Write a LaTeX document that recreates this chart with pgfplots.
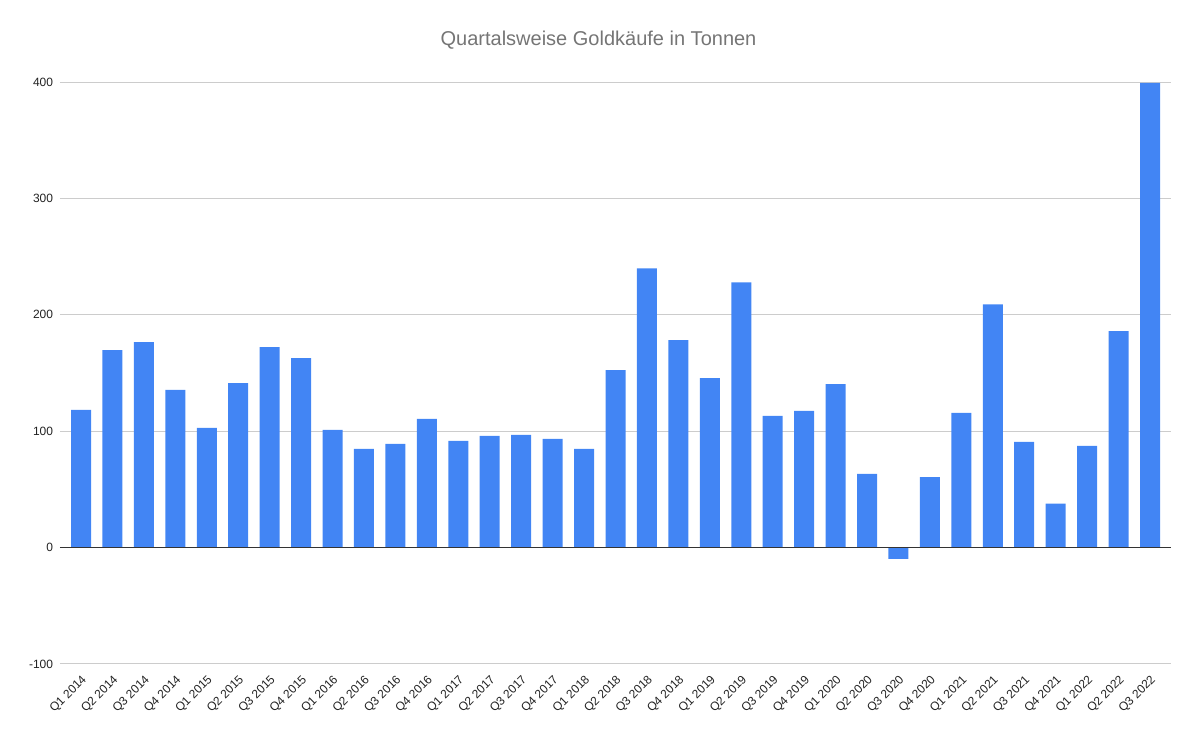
\documentclass[border=0pt]{standalone}
\usepackage{fontspec}
\setmainfont{Liberation Sans}
\usepackage{pgfplots}
\usepackage{pgfplotstable}
\pgfplotsset{compat=1.18}
\definecolor{barblue}{HTML}{4285F4}
\definecolor{gridgray}{HTML}{CCCCCC}
\definecolor{titlegray}{HTML}{757575}
\definecolor{labelgray}{HTML}{222222}
\definecolor{zeroline}{HTML}{333333}

% Goldkaeufe in Tonnen, Q1 2014 (0) bis Q3 2022 (34)
\pgfplotstableread{
idx value
0  118.3
1  169.7
2  176.5
3  135.4
4  102.8
5  141.4
6  172.2
7  162.8
8  101.1
9  84.8
10 89.1
11 110.5
12 91.7
13 96.0
14 96.8
15 93.4
16 84.8
17 152.5
18 239.9
19 178.2
20 145.7
21 227.9
22 113.1
23 117.4
24 140.5
25 63.4
26 -9.7
27 60.6
28 115.7
29 209.0
30 90.8
31 37.7
32 87.4
33 186.0
34 399.3
}\goldtable

\begin{document}
\begin{tikzpicture}
\path[use as bounding box] (0pt,0pt) rectangle (897.75pt,551.25pt);
\node[font=\fontsize{15}{18}\selectfont, text=titlegray] at (448.9pt,521.25pt)
  {Quartalsweise Goldkäufe in Tonnen};
\begin{axis}[at={(45pt,53.25pt)}, anchor=south west,
             scale only axis,
             width=833.25pt,
             height=436.5pt,
             xmin=-0.668, xmax=34.668,
             ymin=-100, ymax=400,
             xtick={0,...,34},
             xticklabels={Q1 2014,Q2 2014,Q3 2014,Q4 2014,
                          Q1 2015,Q2 2015,Q3 2015,Q4 2015,
                          Q1 2016,Q2 2016,Q3 2016,Q4 2016,
                          Q1 2017,Q2 2017,Q3 2017,Q4 2017,
                          Q1 2018,Q2 2018,Q3 2018,Q4 2018,
                          Q1 2019,Q2 2019,Q3 2019,Q4 2019,
                          Q1 2020,Q2 2020,Q3 2020,Q4 2020,
                          Q1 2021,Q2 2021,Q3 2021,Q4 2021,
                          Q1 2022,Q2 2022,Q3 2022},
             ytick={-100,0,100,200,300,400},
             yticklabels={-100,0,100,200,300,400},
             ymajorgrids,
             grid style={gridgray, line width=0.75pt},
             axis line style={draw=none},
             major tick length=0pt,
             tick label style={font=\fontsize{9}{10}\selectfont, text=labelgray},
             yticklabel style={anchor=east, inner sep=0pt, xshift=-5pt},
             xticklabel style={rotate=45, anchor=north east, inner sep=0pt,
                               xshift=-5.3pt, yshift=-5.3pt},
             clip=false]
  \addplot[ybar, bar width=15pt, fill=barblue, draw=none]
    table[x=idx, y=value] {\goldtable};
  \draw[zeroline, line width=0.75pt] (axis cs:-0.668,0) -- (axis cs:34.668,0);
\end{axis}
\end{tikzpicture}
\end{document}
